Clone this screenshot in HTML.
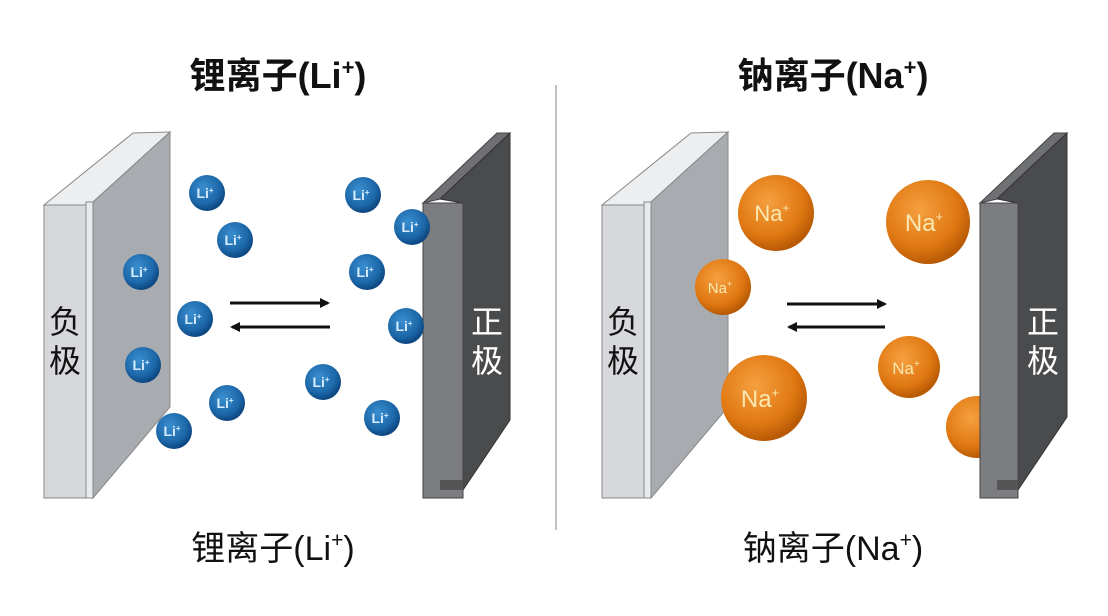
<!DOCTYPE html>
<html><head><meta charset="utf-8"><style>
html,body{margin:0;padding:0;background:#fff;width:1108px;height:616px;overflow:hidden}
svg{display:block}
.t{font-family:"Liberation Sans","Noto Sans CJK SC",sans-serif;fill:#111}
</style></head><body>
<svg width="1108" height="616" viewBox="0 0 1108 616" xmlns="http://www.w3.org/2000/svg">
<defs>
<radialGradient id="li" cx="0.4" cy="0.35" r="0.65">
<stop offset="0" stop-color="#3a8fd0"/><stop offset="0.7" stop-color="#1c67a8"/><stop offset="1" stop-color="#0c4680"/>
</radialGradient>
<radialGradient id="na" cx="0.4" cy="0.35" r="0.65">
<stop offset="0" stop-color="#f5a040"/><stop offset="0.7" stop-color="#e07812"/><stop offset="1" stop-color="#b85a05"/>
</radialGradient>
<marker id="ah" markerWidth="10" markerHeight="10" refX="8" refY="5" orient="auto" markerUnits="userSpaceOnUse">
<path d="M0,0 L10,5 L0,10 Z" fill="#111"/></marker>
<symbol id="anode" overflow="visible">
<polygon points="0,83 89,11 126,10 49,80 42,83" fill="#eceef0" stroke="#888" stroke-width="1"/>
<rect x="0" y="83" width="42" height="293" fill="#d6d8db" stroke="#888" stroke-width="1"/>
<rect x="42" y="80" width="7" height="296" fill="#e8eaec" stroke="#888" stroke-width="1"/>
<polygon points="49,80 126,10 126,285 49,376" fill="#a8abaf" stroke="#888" stroke-width="1"/>
</symbol>
</defs>

<line x1="556" y1="85" x2="556" y2="530" stroke="#999" stroke-width="1.2"/>

<text class="t" x="278" y="88" font-size="36" font-weight="bold" text-anchor="middle">锂离子(Li<tspan font-size="22" dy="-13">+</tspan><tspan dy="13">)</tspan></text>
<text class="t" x="833" y="88" font-size="36" font-weight="bold" text-anchor="middle">钠离子(Na<tspan font-size="22" dy="-13">+</tspan><tspan dy="13">)</tspan></text>
<text class="t" x="273" y="560" font-size="34" text-anchor="middle">锂离子(Li<tspan font-size="21" dy="-13">+</tspan><tspan dy="13">)</tspan></text>
<text class="t" x="833" y="560" font-size="34" text-anchor="middle">钠离子(Na<tspan font-size="21" dy="-13">+</tspan><tspan dy="13">)</tspan></text>

<!-- LEFT PANEL -->
<use href="#anode" x="44" y="122"/>
<text class="t" x="65" y="333" font-size="32" text-anchor="middle">负</text>
<text class="t" x="65" y="372" font-size="32" text-anchor="middle">极</text>

<polygon points="423,203 440,199 510,133 497,133" fill="#6e7073" stroke="#444" stroke-width="1"/>
<polygon points="440,199 510,133 510,420 463,490 463,203" fill="#4a4b4d" stroke="#333" stroke-width="1"/>
<rect x="423" y="203" width="40" height="295" fill="#7b7d80" stroke="#444" stroke-width="1"/>
<polygon points="440,480 463,480 463,490 440,490" fill="#555"/>
<text x="487" y="333" font-size="32" text-anchor="middle" fill="#fff" font-family="Liberation Sans,Noto Sans CJK SC,sans-serif">正</text>
<text x="487" y="372" font-size="32" text-anchor="middle" fill="#fff" font-family="Liberation Sans,Noto Sans CJK SC,sans-serif">极</text>

<g font-family="Liberation Sans,sans-serif" font-size="14" font-weight="bold" fill="#d8ecff" text-anchor="middle">
<circle cx="207" cy="193" r="18" fill="url(#li)"/><text x="205" y="198">Li<tspan font-size="8" dy="-5">+</tspan></text>
<circle cx="235" cy="240" r="18" fill="url(#li)"/><text x="233" y="245">Li<tspan font-size="8" dy="-5">+</tspan></text>
<circle cx="141" cy="272" r="18" fill="url(#li)"/><text x="139" y="277">Li<tspan font-size="8" dy="-5">+</tspan></text>
<circle cx="195" cy="319" r="18" fill="url(#li)"/><text x="193" y="324">Li<tspan font-size="8" dy="-5">+</tspan></text>
<circle cx="143" cy="365" r="18" fill="url(#li)"/><text x="141" y="370">Li<tspan font-size="8" dy="-5">+</tspan></text>
<circle cx="227" cy="403" r="18" fill="url(#li)"/><text x="225" y="408">Li<tspan font-size="8" dy="-5">+</tspan></text>
<circle cx="174" cy="431" r="18" fill="url(#li)"/><text x="172" y="436">Li<tspan font-size="8" dy="-5">+</tspan></text>
<circle cx="363" cy="195" r="18" fill="url(#li)"/><text x="361" y="200">Li<tspan font-size="8" dy="-5">+</tspan></text>
<circle cx="412" cy="227" r="18" fill="url(#li)"/><text x="410" y="232">Li<tspan font-size="8" dy="-5">+</tspan></text>
<circle cx="367" cy="272" r="18" fill="url(#li)"/><text x="365" y="277">Li<tspan font-size="8" dy="-5">+</tspan></text>
<circle cx="406" cy="326" r="18" fill="url(#li)"/><text x="404" y="331">Li<tspan font-size="8" dy="-5">+</tspan></text>
<circle cx="323" cy="382" r="18" fill="url(#li)"/><text x="321" y="387">Li<tspan font-size="8" dy="-5">+</tspan></text>
<circle cx="382" cy="418" r="18" fill="url(#li)"/><text x="380" y="423">Li<tspan font-size="8" dy="-5">+</tspan></text>
</g>

<line x1="230" y1="303" x2="328" y2="303" stroke="#111" stroke-width="3" marker-end="url(#ah)"/>
<line x1="330" y1="327" x2="232" y2="327" stroke="#111" stroke-width="3" marker-end="url(#ah)"/>

<!-- RIGHT PANEL -->
<use href="#anode" x="602" y="122"/>
<text class="t" x="623" y="333" font-size="32" text-anchor="middle">负</text>
<text class="t" x="623" y="372" font-size="32" text-anchor="middle">极</text>

<circle cx="977" cy="427" r="31" fill="url(#na)"/>

<polygon points="980,203 997,199 1067,133 1054,133" fill="#6e7073" stroke="#444" stroke-width="1"/>
<polygon points="997,199 1067,133 1067,417 1018,490 1018,203" fill="#4a4b4d" stroke="#333" stroke-width="1"/>
<rect x="980" y="203" width="38" height="295" fill="#7b7d80" stroke="#444" stroke-width="1"/>
<polygon points="997,480 1018,480 1018,490 997,490" fill="#555"/>
<text x="1043" y="333" font-size="32" text-anchor="middle" fill="#fff" font-family="Liberation Sans,Noto Sans CJK SC,sans-serif">正</text>
<text x="1043" y="372" font-size="32" text-anchor="middle" fill="#fff" font-family="Liberation Sans,Noto Sans CJK SC,sans-serif">极</text>

<g font-family="Liberation Sans,sans-serif" fill="#fbe8b0" text-anchor="middle">
<circle cx="776" cy="213" r="38" fill="url(#na)"/><text x="772" y="221" font-size="22">Na<tspan font-size="12" dy="-9">+</tspan></text>
<circle cx="723" cy="287" r="28" fill="url(#na)"/><text x="720" y="293" font-size="15">Na<tspan font-size="9" dy="-6">+</tspan></text>
<circle cx="764" cy="398" r="43" fill="url(#na)"/><text x="760" y="407" font-size="24">Na<tspan font-size="13" dy="-10">+</tspan></text>
<circle cx="928" cy="222" r="42" fill="url(#na)"/><text x="924" y="231" font-size="24">Na<tspan font-size="13" dy="-10">+</tspan></text>
<circle cx="909" cy="367" r="31" fill="url(#na)"/><text x="906" y="374" font-size="17">Na<tspan font-size="10" dy="-7">+</tspan></text>
</g>

<line x1="787" y1="304" x2="885" y2="304" stroke="#111" stroke-width="3" marker-end="url(#ah)"/>
<line x1="885" y1="327" x2="789" y2="327" stroke="#111" stroke-width="3" marker-end="url(#ah)"/>
</svg>
</body></html>
